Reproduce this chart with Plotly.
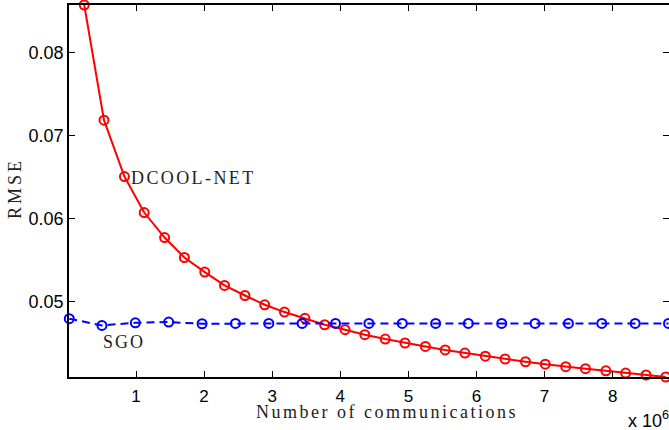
import plotly.graph_objects as go

# ---- data (x in units of 10^6 communications) ----
dcool_x = [0.24, 0.53, 0.83, 1.12, 1.42, 1.71, 2.01, 2.30, 2.60, 2.89,
           3.18, 3.48, 3.77, 4.07, 4.36, 4.66, 4.95, 5.25, 5.54, 5.83,
           6.13, 6.42, 6.72, 7.01, 7.31, 7.60, 7.90, 8.19, 8.49, 8.78]
dcool_rmse = [0.08575, 0.07186, 0.06506, 0.06072, 0.05771, 0.05530, 0.05354,
              0.05193, 0.05072, 0.04960, 0.04872, 0.04797, 0.04719, 0.04659,
              0.04599, 0.04547, 0.04499, 0.04458, 0.04415, 0.04378, 0.04340,
              0.04306, 0.04273, 0.04244, 0.04213, 0.04189, 0.04163, 0.04137,
              0.04113, 0.04089]

sgo_x = [0.02, 0.50, 0.99, 1.48, 1.97, 2.46, 2.95, 3.44, 3.93, 4.42,
         4.91, 5.40, 5.88, 6.37, 6.86, 7.35, 7.84, 8.33, 8.82]
sgo_rmse = [0.04792, 0.04711, 0.04743, 0.04752, 0.04731, 0.04735, 0.04735,
            0.04735, 0.04735, 0.04735, 0.04735, 0.04735, 0.04735, 0.04735,
            0.04735, 0.04735, 0.04735, 0.04735, 0.04735]

x_ticks = [1, 2, 3, 4, 5, 6, 7, 8]
y_ticks = [0.05, 0.06, 0.07, 0.08]
y_tick_labels = ["0.05", "0.06", "0.07", "0.08"]

x_range = [0.016, 8.827]
y_range = [0.04089, 0.08575]

SERIF = "Liberation Serif, Times New Roman, serif"
SANS = "Liberation Sans, Arial, Helvetica, sans-serif"

fig = go.Figure()

fig.add_trace(go.Scatter(
    x=dcool_x, y=dcool_rmse, mode="lines+markers", name="DCOOL-NET",
    line=dict(color="#ff0000", width=2),
    marker=dict(symbol="circle-open", size=9, color="#ff0000",
                line=dict(width=2, color="#ff0000")),
    cliponaxis=False, showlegend=False))

fig.add_trace(go.Scatter(
    x=sgo_x, y=sgo_rmse, mode="lines+markers", name="SGO",
    line=dict(color="#0000ff", width=2, dash="8px,5px"),
    marker=dict(symbol="circle-open", size=9, color="#0000ff",
                line=dict(width=2, color="#0000ff")),
    cliponaxis=False, showlegend=False))

# trace on the right-hand axis (only used to draw mirrored ticks)
fig.add_trace(go.Scatter(x=[None], y=[None], yaxis="y2", showlegend=False,
                         hoverinfo="skip"))

fig.update_layout(
    template="none",
    width=669, height=430,
    margin=dict(l=69, r=0, t=5, b=53),
    paper_bgcolor="white", plot_bgcolor="white",
    font=dict(family=SANS, size=17, color="black"),
    xaxis=dict(range=x_range, tickvals=x_ticks,
               ticks="inside", ticklen=6, tickwidth=1, tickcolor="black",
               showline=True, linecolor="black", linewidth=1.5,
               mirror="ticks", showgrid=False, zeroline=False,
               ticklabelstandoff=3,
               tickfont=dict(family=SANS, size=17)),
    yaxis=dict(range=y_range, tickvals=y_ticks, ticktext=y_tick_labels,
               ticks="inside", ticklen=6, tickwidth=1, tickcolor="black",
               showline=True, linecolor="black", linewidth=1.5,
               mirror=False, showgrid=False, zeroline=False,
               tickfont=dict(family=SANS, size=18)),
    yaxis2=dict(range=y_range, tickvals=y_ticks, overlaying="y", side="right",
                ticks="inside", ticklen=6, tickwidth=1, tickcolor="black",
                showticklabels=False, showline=False, showgrid=False,
                zeroline=False),
)

ann = []
ann.append(dict(text='<span style="letter-spacing:2.5px">Number of communications</span>',
                xref="paper", yref="paper", x=(387 - 69) / 600, y=(377 - 412) / 372,
                xanchor="center", yanchor="middle", showarrow=False,
                font=dict(family=SERIF, size=18, color="#222")))
ann.append(dict(text='<span style="letter-spacing:3px">RMSE</span>',
                xref="paper", yref="paper", x=(15 - 69) / 600, y=(377 - 189) / 372,
                xanchor="center", yanchor="middle", textangle=-90, showarrow=False,
                font=dict(family=SERIF, size=18, color="#222")))
ann.append(dict(text='<span style="letter-spacing:2.4px">DCOOL-NET</span>',
                xref="x", yref="y", x=0.90, y=0.0649,
                xanchor="left", yanchor="middle", showarrow=False,
                font=dict(family=SERIF, size=18, color="#222")))
ann.append(dict(text='<span style="letter-spacing:2px">SGO</span>',
                xref="x", yref="y", x=0.49, y=0.04508,
                xanchor="left", yanchor="middle", showarrow=False,
                font=dict(family=SERIF, size=18, color="#222")))
ann.append(dict(text="x 10<sup>6</sup>",
                xref="paper", yref="paper", x=(626 - 69) / 600, y=(377 - 420) / 372,
                xanchor="left", yanchor="middle", showarrow=False,
                font=dict(family=SANS, size=18, color="black")))
fig.update_layout(annotations=ann)

fig.write_html("out.html")
